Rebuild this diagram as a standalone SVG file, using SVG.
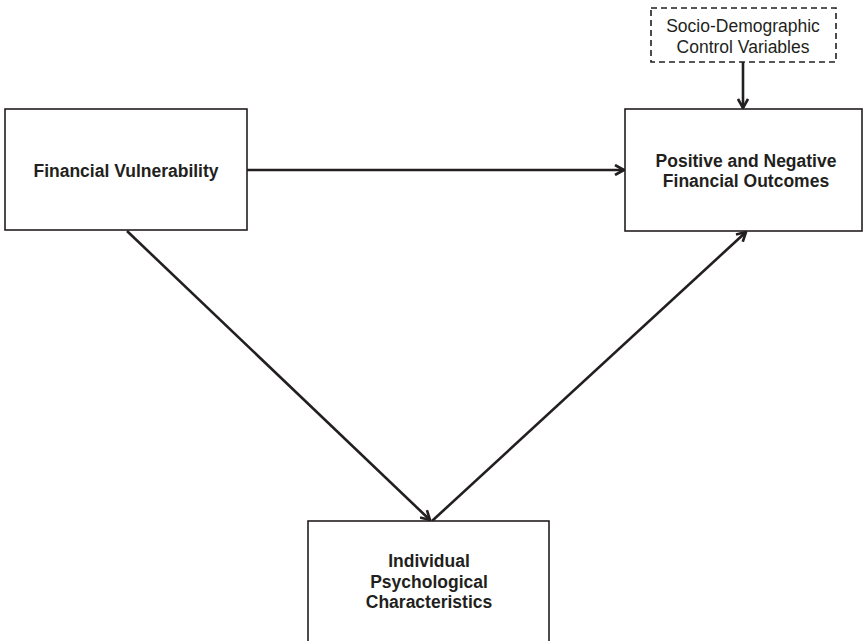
<svg xmlns="http://www.w3.org/2000/svg" width="866" height="641" viewBox="0 0 866 641">
<style>
.box{fill:#fff;stroke:#231f20;stroke-width:1.6}
.dash{fill:#fff;stroke:#231f20;stroke-width:1.6;stroke-dasharray:6,4}
.lbl{font-family:"Liberation Sans",Arial,sans-serif;font-size:17.5px;font-weight:bold;fill:#231f20;text-anchor:middle}
.sm{font-family:"Liberation Sans",Arial,sans-serif;font-size:17.5px;fill:#231f20;text-anchor:middle}
.con{stroke:#231f20;stroke-width:2.6;fill:none;marker-end:url(#arr)}
</style>
<defs>
<marker id="arr" viewBox="0 0 12 12" refX="11" refY="6" markerWidth="12" markerHeight="12" markerUnits="userSpaceOnUse" orient="auto">
<path d="M2,1 L11,6 L2,11" fill="none" stroke="#231f20" stroke-width="2.6"/>
</marker>
</defs>
<g id="connectors">
<line class="con" x1="247" y1="170" x2="624" y2="170"/>
<line class="con" x1="743" y1="62" x2="743" y2="108"/>
<line class="con" x1="127" y1="231" x2="430" y2="520"/>
<line class="con" x1="432" y1="521" x2="746" y2="232"/>
</g>
<g id="financial-vulnerability">
<rect class="box" x="5" y="109" width="242" height="121"/>
<text class="lbl" x="126" y="177">Financial Vulnerability</text>
</g>
<g id="financial-outcomes">
<rect class="box" x="625" y="109" width="237" height="122"/>
<text class="lbl" x="746" y="167">Positive and Negative</text>
<text class="lbl" x="746" y="187">Financial Outcomes</text>
</g>
<g id="control-variables">
<rect class="dash" x="651" y="8" width="185" height="54"/>
<text class="sm" x="743" y="32">Socio-Demographic</text>
<text class="sm" x="743" y="53">Control Variables</text>
</g>
<g id="psychological">
<rect class="box" x="308" y="521" width="241" height="130"/>
<text class="lbl" x="429" y="567">Individual</text>
<text class="lbl" x="429" y="588">Psychological</text>
<text class="lbl" x="429" y="608">Characteristics</text>
</g>
</svg>
